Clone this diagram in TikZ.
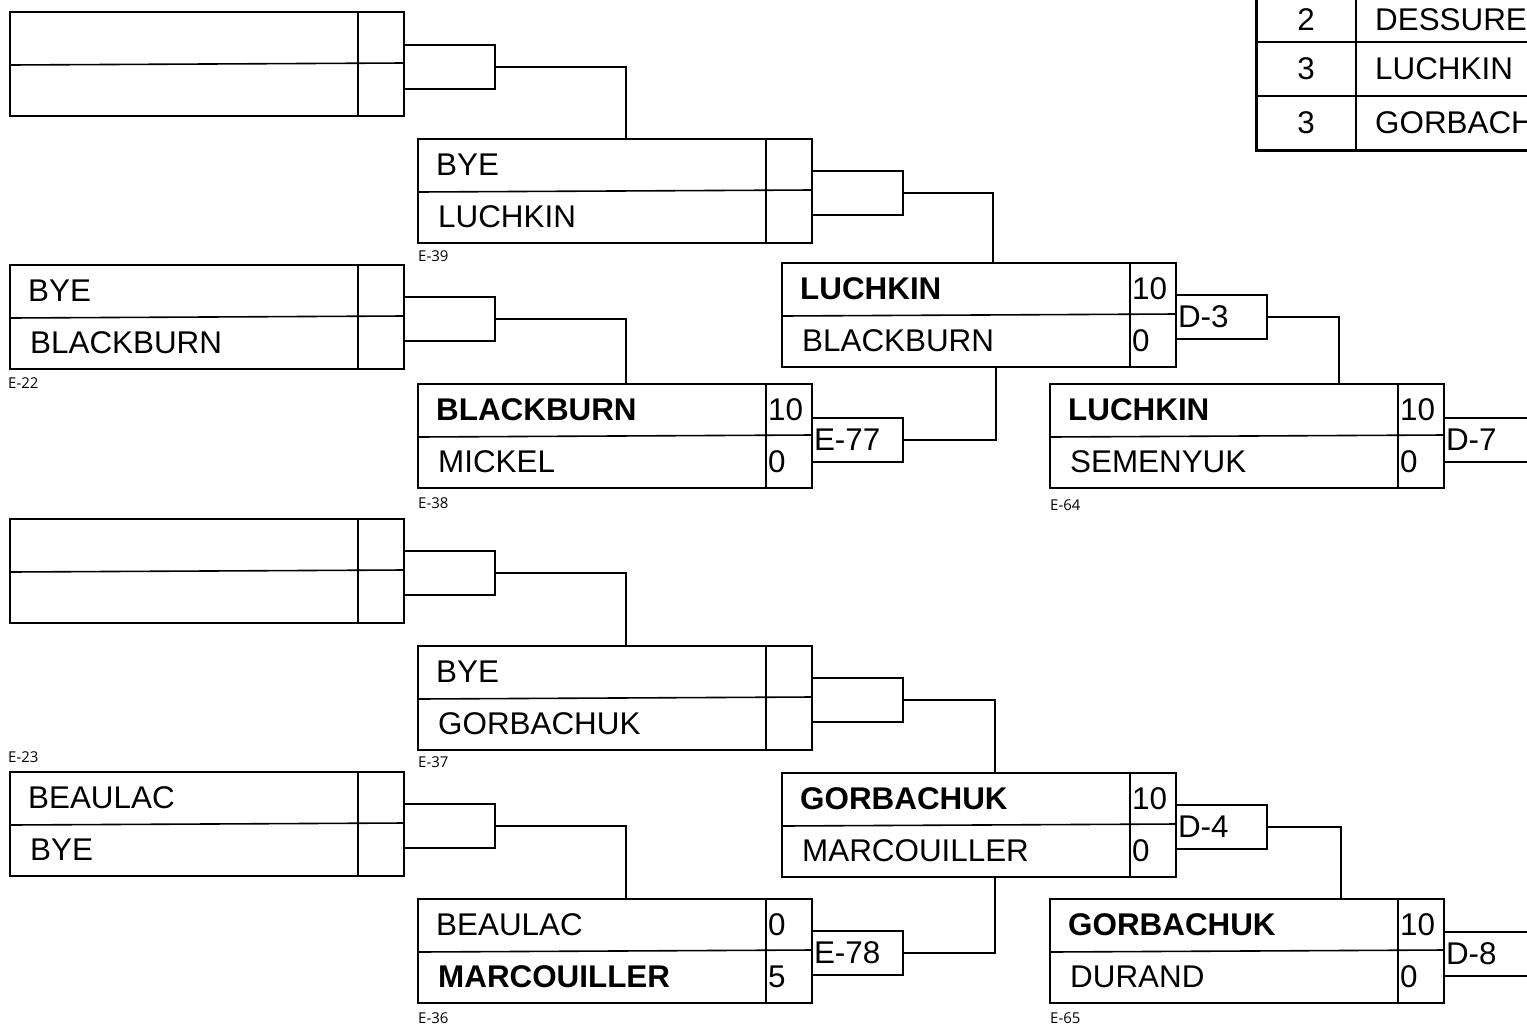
\documentclass[tikz,border=0pt]{standalone}
\usepackage{fontspec}
\setmainfont{Liberation Sans}
\newfontfamily\smallfont{Open Sans}
\newcommand\bigfont{\fontsize{31.5}{31.5}\selectfont}
\newcommand\tagfont{\smallfont\fontsize{15}{15}\selectfont}
\tikzset{
  boxframe/.style={draw, line width=2bp, minimum width=394bp, minimum height=104bp, inner sep=0pt, outer sep=0pt},
  divline/.style={line width=1.6bp},
  conn/.style={draw, line width=2bp, minimum width=91bp, minimum height=44bp, inner sep=0pt, outer sep=0pt, text width=87bp, align=left, font=\bigfont},
  wire/.style={line width=2bp},
  nametext/.style={anchor=west, inner sep=0pt, font=\bigfont},
  tag/.style={anchor=west, inner sep=0pt, font=\tagfont},
  tabtext/.style={inner sep=0pt, font=\bigfont},
}
\newcommand\matchbox[7]{%
  \node[boxframe, anchor=north west] (#1) at (#2,#3) {};
  \draw[divline] ([yshift=-1bp]#1.west) -- ([yshift=1bp]#1.east);
  \draw[divline] ([xshift=-46bp]#1.north east) -- ([xshift=-46bp]#1.south east);
  \node[nametext] (#1n1) at ([xshift=18bp,yshift=26bp]#1.west) {#4};
  \node[nametext] (#1n2) at ([xshift=20bp,yshift=-26bp]#1.west) {#6};
  \node[nametext] (#1s1) at ([xshift=-44bp,yshift=26bp]#1.east) {#5};
  \node[nametext] (#1s2) at ([xshift=-44bp,yshift=-26bp]#1.east) {#7};
}
\begin{document}
\begin{tikzpicture}[x=1bp,y=-1bp]
\useasboundingbox (0,0) rectangle (1527,1025);
\clip (0,0) rectangle (1527,1025);
\fill[white] (0,0) rectangle (1527,1025);

% round 1
\matchbox{mA}{10}{12}{}{}{}{}
\matchbox{mB}{10}{265}{BYE}{}{BLACKBURN}{}
\matchbox{mC}{10}{519}{}{}{}{}
\matchbox{mD}{10}{772}{BEAULAC}{}{BYE}{}
% round 2
\matchbox{m39}{418}{139}{BYE}{}{LUCHKIN}{}
\matchbox{m38}{418}{384}{\textbf{BLACKBURN}}{10}{MICKEL}{0}
\matchbox{m37}{418}{646}{BYE}{}{GORBACHUK}{}
\matchbox{m36}{418}{899}{BEAULAC}{0}{\textbf{MARCOUILLER}}{5}
% round 3
\matchbox{mL}{782}{263}{\textbf{LUCHKIN}}{10}{BLACKBURN}{0}
\matchbox{mG}{782}{773}{\textbf{GORBACHUK}}{10}{MARCOUILLER}{0}
% round 4
\matchbox{m64}{1050}{384}{\textbf{LUCHKIN}}{10}{SEMENYUK}{0}
\matchbox{m65}{1050}{899}{\textbf{GORBACHUK}}{10}{DURAND}{0}

% connector boxes
\node[conn, anchor=north west] (cA) at ([yshift=-33bp]mA.north east) {};
\node[conn, anchor=north west] (cB) at ([yshift=-32bp]mB.north east) {};
\node[conn, anchor=north west] (cC) at ([yshift=-32bp]mC.north east) {};
\node[conn, anchor=north west] (cD) at ([yshift=-32bp]mD.north east) {};
\node[conn, anchor=north west] (c39) at ([yshift=-32bp]m39.north east) {};
\node[conn, anchor=north west] (c77) at ([yshift=-34bp]m38.north east) {E-77};
\node[conn, anchor=north west] (c37) at ([yshift=-32bp]m37.north east) {};
\node[conn, anchor=north west] (c78) at ([yshift=-32bp]m36.north east) {E-78};
\node[conn, anchor=north west] (cD3) at ([yshift=-32bp]mL.north east) {D-3};
\node[conn, anchor=north west] (cD4) at ([yshift=-32bp]mG.north east) {D-4};
\node[conn, anchor=north west] (cD7) at ([yshift=-34bp]m64.north east) {D-7};
\node[conn, anchor=north west] (cD8) at ([yshift=-33bp]m65.north east) {D-8};

% wires
\draw[wire] (cA.east) -| ([xshift=208bp]m39.north west);
\draw[wire] (cB.east) -| ([xshift=208bp]m38.north west);
\draw[wire] (cC.east) -| ([xshift=208bp]m37.north west);
\draw[wire] (cD.east) -| ([xshift=208bp]m36.north west);
\draw[wire] (c39.east) -| ([xshift=211bp]mL.north west);
\draw[wire] (c77.east) -| ([xshift=214bp]mL.south west);
\draw[wire] (c37.east) -| ([xshift=213bp]mG.north west);
\draw[wire] (c78.east) -| ([xshift=213bp]mG.south west);
\draw[wire] (cD3.east) -| ([xshift=289bp]m64.north west);
\draw[wire] (cD4.east) -| ([xshift=291bp]m65.north west);

% small match tags
\node[tag] (tE39) at (418,256) {E-39};
\node[tag] (tE22) at (8,383) {E-22};
\node[tag] (tE38) at (418,503) {E-38};
\node[tag] (tE64) at (1050,505) {E-64};
\node[tag] (tE23) at (8,757) {E-23};
\node[tag] (tE37) at (418,762) {E-37};
\node[tag] (tE36) at (418,1018) {E-36};
\node[tag] (tE65) at (1050,1018) {E-65};

% ranking table (top right)
\draw[line width=1.6bp] (1256,42) -- (1527,42);
\draw[line width=1.6bp] (1256,96) -- (1527,96);
\draw[line width=1.6bp] (1356,-2) -- (1356,150);
\draw[line width=3bp] (1256,-2) -- (1256,150.5) -- (1530,150.5);
\node[tabtext] (r1) at (1306,20) {2};
\node[tabtext, anchor=west] (n1) at (1375,20) {DESSUREAULT};
\node[tabtext] (r2) at (1306,69) {3};
\node[tabtext, anchor=west] (n2) at (1375,69) {LUCHKIN};
\node[tabtext] (r3) at (1306,123) {3};
\node[tabtext, anchor=west] (n3) at (1375,123) {GORBACHUK};
\end{tikzpicture}
\end{document}
